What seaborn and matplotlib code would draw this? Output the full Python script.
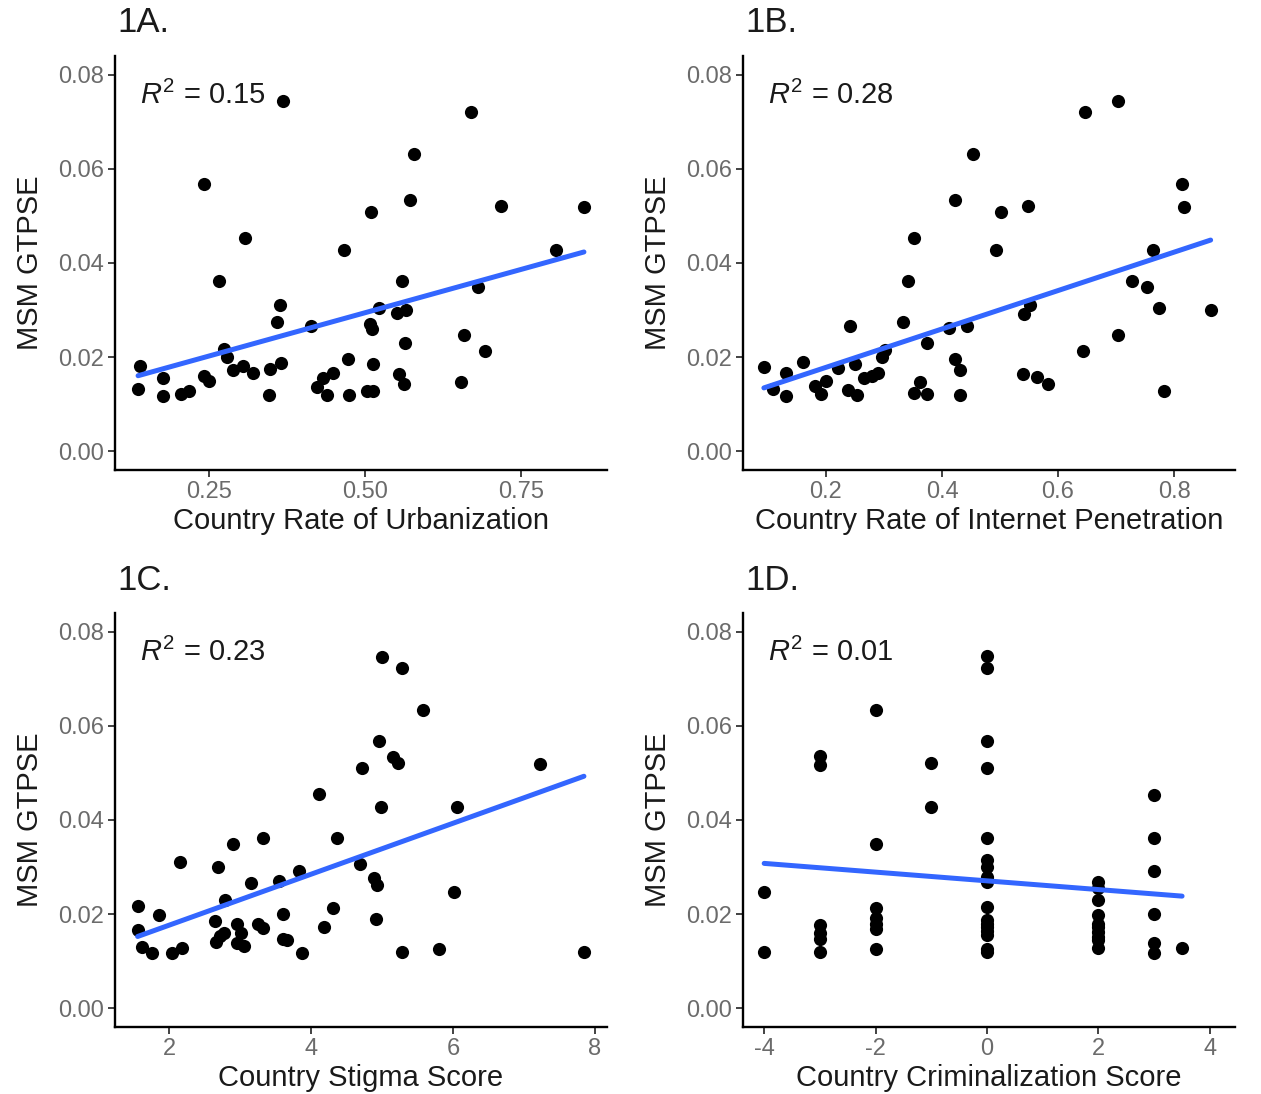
import matplotlib
matplotlib.use("Agg")
import matplotlib.pyplot as plt
import seaborn as sns
import pandas as pd

# Country-level predictors against MSM GTPSE
urb_x = [0.369, 0.241, 0.308, 0.467, 0.266, 0.364, 0.358, 0.413, 0.273, 0.278,
         0.139, 0.176, 0.241, 0.249, 0.288, 0.304, 0.320, 0.348, 0.366, 0.136,
         0.176, 0.205, 0.217, 0.346, 0.472, 0.423, 0.433, 0.449, 0.439, 0.475,
         0.670, 0.579, 0.510, 0.572, 0.718, 0.851, 0.807, 0.560, 0.681, 0.522,
         0.552, 0.566, 0.508, 0.511, 0.564, 0.659, 0.693, 0.512, 0.555, 0.563,
         0.654, 0.503, 0.512]
urb_y = [0.0745, 0.0567, 0.0453, 0.0427, 0.0361, 0.0310, 0.0274, 0.0266, 0.0218, 0.0200,
         0.0180, 0.0156, 0.0160, 0.0149, 0.0173, 0.0182, 0.0166, 0.0174, 0.0188, 0.0132,
         0.0117, 0.0122, 0.0128, 0.0119, 0.0195, 0.0137, 0.0156, 0.0167, 0.0119, 0.0119,
         0.0722, 0.0632, 0.0509, 0.0533, 0.0521, 0.0518, 0.0427, 0.0361, 0.0349, 0.0305,
         0.0293, 0.0301, 0.0270, 0.0260, 0.0231, 0.0248, 0.0213, 0.0185, 0.0163, 0.0142,
         0.0146, 0.0127, 0.0128]

net_x = [0.453, 0.422, 0.351, 0.342, 0.332, 0.241, 0.374, 0.412, 0.443, 0.302,
         0.296, 0.093, 0.131, 0.161, 0.221, 0.250, 0.109, 0.131, 0.181, 0.200,
         0.191, 0.238, 0.253, 0.266, 0.279, 0.290, 0.351, 0.362, 0.374, 0.422,
         0.431, 0.431,
         0.704, 0.646, 0.813, 0.817, 0.502, 0.548, 0.493, 0.764, 0.728, 0.754,
         0.774, 0.863, 0.552, 0.542, 0.703, 0.643, 0.539, 0.563, 0.583, 0.782]
net_y = [0.0632, 0.0533, 0.0453, 0.0361, 0.0274, 0.0266, 0.0231, 0.0262, 0.0267, 0.0216,
         0.0200, 0.0179, 0.0167, 0.0189, 0.0177, 0.0185, 0.0132, 0.0117, 0.0139, 0.0149,
         0.0121, 0.0129, 0.0119, 0.0156, 0.0160, 0.0166, 0.0124, 0.0147, 0.0121, 0.0195,
         0.0173, 0.0119,
         0.0745, 0.0722, 0.0567, 0.0518, 0.0509, 0.0521, 0.0427, 0.0427, 0.0361, 0.0349,
         0.0305, 0.0301, 0.0310, 0.0292, 0.0247, 0.0213, 0.0163, 0.0158, 0.0142, 0.0127]

stig_x = [4.714, 4.113, 3.32, 4.36, 2.906, 2.155, 2.686, 4.69, 3.155, 3.55,
          3.83, 2.79, 1.559, 1.859, 2.648, 2.953, 3.249, 3.32, 3.61, 4.306,
          4.19, 1.559, 2.66, 2.72, 2.78, 3.02, 2.953, 3.06, 3.61, 3.66,
          1.624, 1.756, 2.04, 2.18, 3.877,
          4.995, 5.277, 5.573, 4.962, 5.15, 5.23, 7.225, 4.98, 6.06, 4.887,
          4.925, 6.01, 4.915, 5.277, 5.81, 7.845]
stig_y = [0.0510, 0.0455, 0.0361, 0.0361, 0.0349, 0.0311, 0.0300, 0.0306, 0.0267, 0.0271,
          0.0292, 0.0231, 0.0217, 0.0198, 0.0185, 0.0180, 0.0178, 0.0170, 0.0200, 0.0213,
          0.0173, 0.0166, 0.0141, 0.0153, 0.0160, 0.0159, 0.0138, 0.0132, 0.0148, 0.0145,
          0.0130, 0.0118, 0.0118, 0.0127, 0.0118,
          0.0747, 0.0723, 0.0633, 0.0568, 0.0533, 0.0521, 0.0519, 0.0427, 0.0427, 0.0276,
          0.0262, 0.0246, 0.0189, 0.0119, 0.0125, 0.0120]

crim_x = [-4, -4,
          -3, -3, -3, -3, -3, -3,
          -2, -2, -2, -2, -2, -2, -2,
          -1, -1,
          0, 0, 0, 0, 0, 0, 0, 0, 0, 0, 0, 0, 0, 0, 0, 0, 0,
          2, 2, 2, 2, 2, 2, 2, 2, 2, 2,
          3, 3, 3, 3, 3, 3,
          3.5]
crim_y = [0.0247, 0.0120,
          0.0535, 0.0517, 0.0177, 0.0160, 0.0148, 0.0120,
          0.0633, 0.0349, 0.0214, 0.0192, 0.0180, 0.0168, 0.0126,
          0.0521, 0.0427,
          0.0749, 0.0723, 0.0568, 0.0510, 0.0361, 0.0315, 0.0301, 0.0279, 0.0269, 0.0216,
          0.0187, 0.0180, 0.0173, 0.0163, 0.0155, 0.0125, 0.0120,
          0.0269, 0.0255, 0.0230, 0.0198, 0.0180, 0.0172, 0.0162, 0.0152, 0.0145,
          0.0127,
          0.0453, 0.0361, 0.0292, 0.0200, 0.0139, 0.0118,
          0.0127]

panel_tags = ["1A.", "1B.", "1C.", "1D."]
x_titles = ["Country Rate of Urbanization", "Country Rate of Internet Penetration",
            "Country Stigma Score", "Country Criminalization Score"]
r2_labels = ["0.15", "0.28", "0.23", "0.01"]
y_title = "MSM GTPSE"
x_ticks = [[0.25, 0.50, 0.75], [0.2, 0.4, 0.6, 0.8], [2, 4, 6, 8], [-4, -2, 0, 2, 4]]
x_ticklabels = [["0.25", "0.50", "0.75"], ["0.2", "0.4", "0.6", "0.8"],
                ["2", "4", "6", "8"], ["-4", "-2", "0", "2", "4"]]
x_limits = [(0.099, 0.888), (0.057, 0.905), (1.24, 8.17), (-4.38, 4.45)]
y_ticks = [0.00, 0.02, 0.04, 0.06, 0.08]
y_ticklabels = ["0.00", "0.02", "0.04", "0.06", "0.08"]

sns.set_theme(style="ticks")
plt.rcParams["font.family"] = ["Liberation Sans", "DejaVu Sans"]
plt.rcParams["mathtext.fontset"] = "custom"
plt.rcParams["mathtext.rm"] = "Liberation Sans"
plt.rcParams["mathtext.it"] = "Liberation Sans:italic"

W, H = 1261, 1094
fig = plt.figure(figsize=(W / 100, H / 100), dpi=100)

# axes boxes in pixels: left, top, right, bottom
boxes = [(115, 56, 607, 470), (743, 56, 1235, 470),
         (115, 613, 607, 1027), (743, 613, 1235, 1027)]

frames = [
    pd.DataFrame({"x": urb_x, "y": urb_y}),
    pd.DataFrame({"x": net_x, "y": net_y}),
    pd.DataFrame({"x": stig_x, "y": stig_y}),
    pd.DataFrame({"x": crim_x, "y": crim_y}),
]

for i, df in enumerate(frames):
    l, t, r, b = boxes[i]
    ax = fig.add_axes([l / W, 1 - b / H, (r - l) / W, (b - t) / H])
    sns.regplot(data=df, x="x", y="y", ax=ax, ci=None,
                scatter_kws=dict(color="black", s=90, linewidths=0, alpha=1),
                line_kws=dict(color="#3366FF", lw=3.6))
    ax.set_xlim(*x_limits[i])
    ax.set_ylim(-0.004, 0.084)
    ax.set_xticks(x_ticks[i])
    ax.set_xticklabels(x_ticklabels[i])
    ax.set_yticks(y_ticks)
    ax.set_yticklabels(y_ticklabels)
    ax.tick_params(axis="both", length=5, width=1.3, color="#333333",
                   labelcolor="#6b6b6b", labelsize=17, pad=3)
    for side in ["top", "right"]:
        ax.spines[side].set_visible(False)
    for side in ["left", "bottom"]:
        ax.spines[side].set_linewidth(1.7)
        ax.spines[side].set_color("black")
    ax.set_xlabel(x_titles[i], fontsize=21, color="#1a1a1a", labelpad=3)
    ax.set_ylabel(y_title, fontsize=21, color="#1a1a1a", labelpad=10)
    ax.text(0.05, 0.905, r"$R^2$ = " + r2_labels[i], transform=ax.transAxes,
            fontsize=21, va="center", ha="left", color="#1a1a1a")
    fig.text((l + 2) / W, 1 - (t - 33) / H, panel_tags[i], fontsize=25,
             va="center", ha="left", color="#1a1a1a")

fig.savefig("out.png", dpi=100, facecolor="white")
